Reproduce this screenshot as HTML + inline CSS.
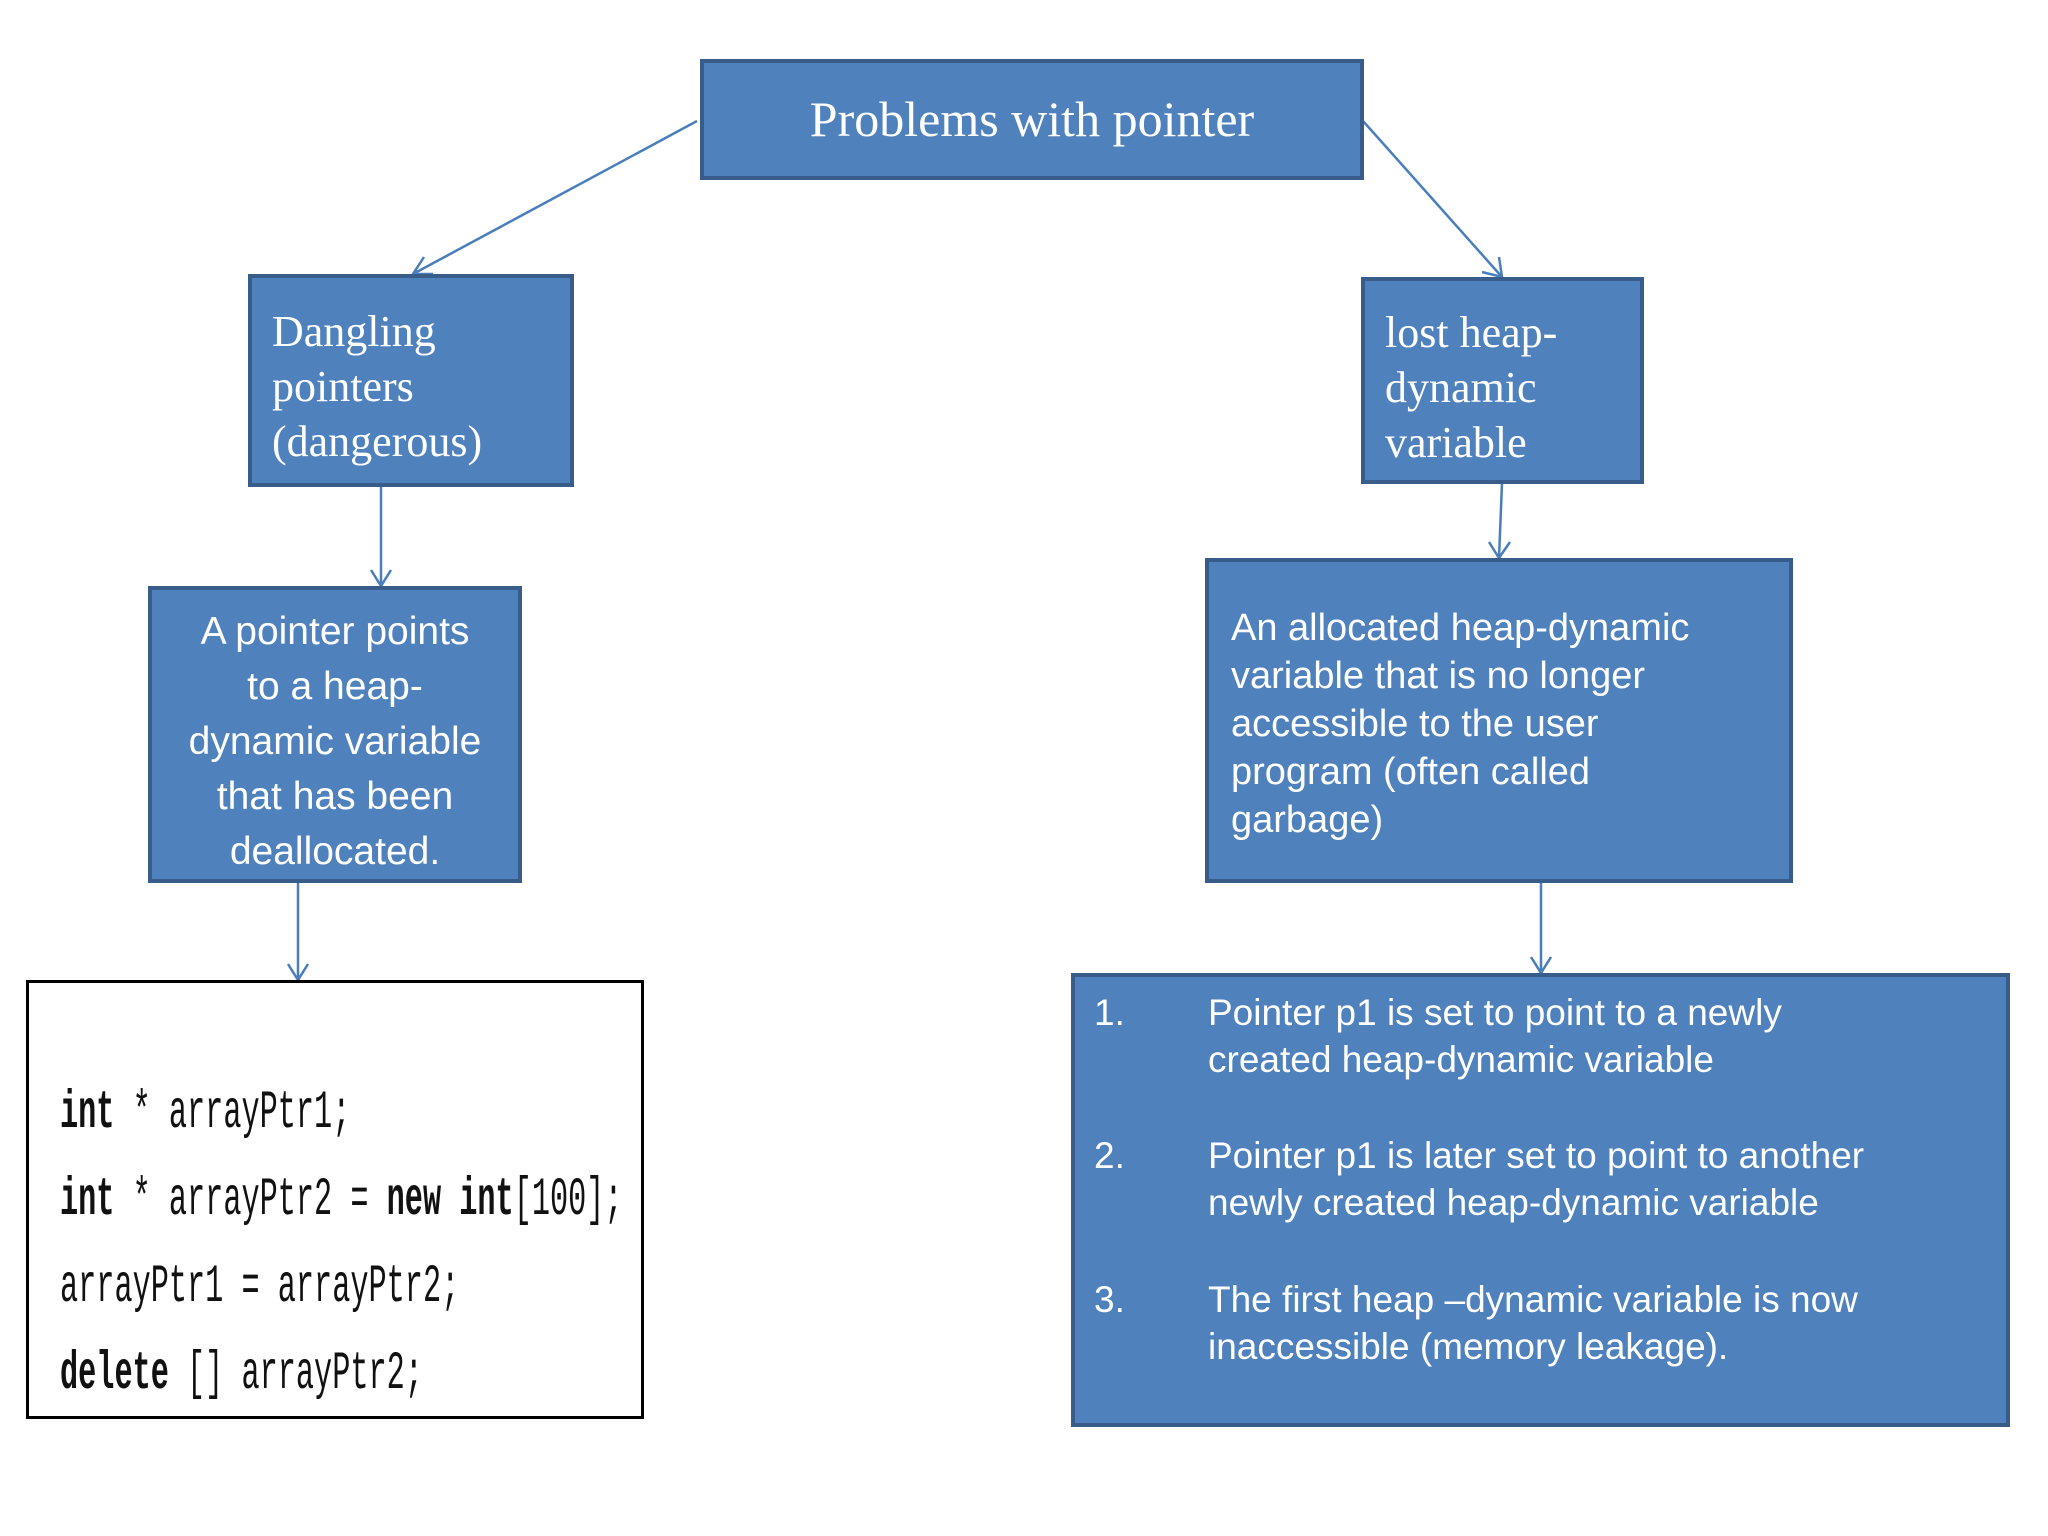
<!DOCTYPE html>
<html><head><meta charset="utf-8"><style>
body{margin:0;width:2048px;height:1536px;background:#fff;position:relative;overflow:hidden;font-family:"Liberation Sans",sans-serif}
.b{position:absolute;background:#4f81bd;border:4px solid #385d8a;box-sizing:border-box;color:#fff}
.serif{font-family:"Liberation Serif",serif}
.t{position:absolute;white-space:nowrap}
</style></head><body>
<svg width="2048" height="1536" style="position:absolute;left:0;top:0" fill="none" stroke="#4a7ebb" stroke-width="2.5">
<line x1="697" y1="121" x2="413" y2="274"/><polyline points="424,257 413,274 433,274"/>
<line x1="1363" y1="121" x2="1502" y2="277"/><polyline points="1482,272 1502,277 1499,257"/>
<line x1="381" y1="486" x2="381" y2="586"/><polyline points="371,570 381,586 391,570"/>
<line x1="1502" y1="483" x2="1499" y2="558"/><polyline points="1489,542 1499,558 1510,542"/>
<line x1="298" y1="882" x2="298" y2="980"/><polyline points="288,964 298,980 308,964"/>
<line x1="1541" y1="882" x2="1541" y2="973"/><polyline points="1531,957 1541,973 1551,957"/>
</svg>
<div class="b serif" style="left:700px;top:59px;width:664px;height:121px;font-size:50px;text-align:center;line-height:113px">Problems with pointer</div>
<div class="b serif" style="left:248px;top:274px;width:326px;height:213px;font-size:44px;line-height:55px;padding:26px 0 0 20px">Dangling<br>pointers<br>(dangerous)</div>
<div class="b serif" style="left:1361px;top:277px;width:283px;height:207px;font-size:44px;line-height:55px;padding:24px 0 0 20px">lost heap-<br>dynamic<br>variable</div>
<div class="b" style="left:148px;top:586px;width:374px;height:297px;font-size:39px;line-height:55px;text-align:center;padding-top:14px">A pointer points<br>to a heap-<br>dynamic variable<br>that has been<br>deallocated.</div>
<div class="b" style="left:1205px;top:558px;width:588px;height:325px;font-size:38px;line-height:48px;padding:42px 0 0 22px;white-space:nowrap">An allocated heap-dynamic<br>variable that is no longer<br>accessible to the user<br>program (often called<br>garbage)</div>
<div style="position:absolute;left:26px;top:980px;width:618px;height:439px;border:3px solid #000;box-sizing:border-box;background:#fff"></div>
<div style="position:absolute;left:60px;top:1070px;font-family:'Liberation Mono',monospace;font-size:54px;line-height:87px;color:#111;transform:scaleX(0.56);transform-origin:0 0;white-space:pre"><b>int</b> * arrayPtr1;
<b>int</b> * arrayPtr2 = <b>new int</b>[100];
arrayPtr1 = arrayPtr2;
<b>delete</b> [] arrayPtr2;</div>
<div class="b" style="left:1071px;top:973px;width:939px;height:454px;font-size:37px;line-height:47px">
<div class="t" style="left:19px;top:12px">1.</div><div class="t" style="left:133px;top:12px">Pointer p1 is set to point to a newly<br>created heap-dynamic variable</div>
<div class="t" style="left:19px;top:155px">2.</div><div class="t" style="left:133px;top:155px">Pointer p1 is later set to point to another<br>newly created heap-dynamic variable</div>
<div class="t" style="left:19px;top:299px">3.</div><div class="t" style="left:133px;top:299px">The first heap –dynamic variable is now<br>inaccessible (memory leakage).</div>
</div>
</body></html>
